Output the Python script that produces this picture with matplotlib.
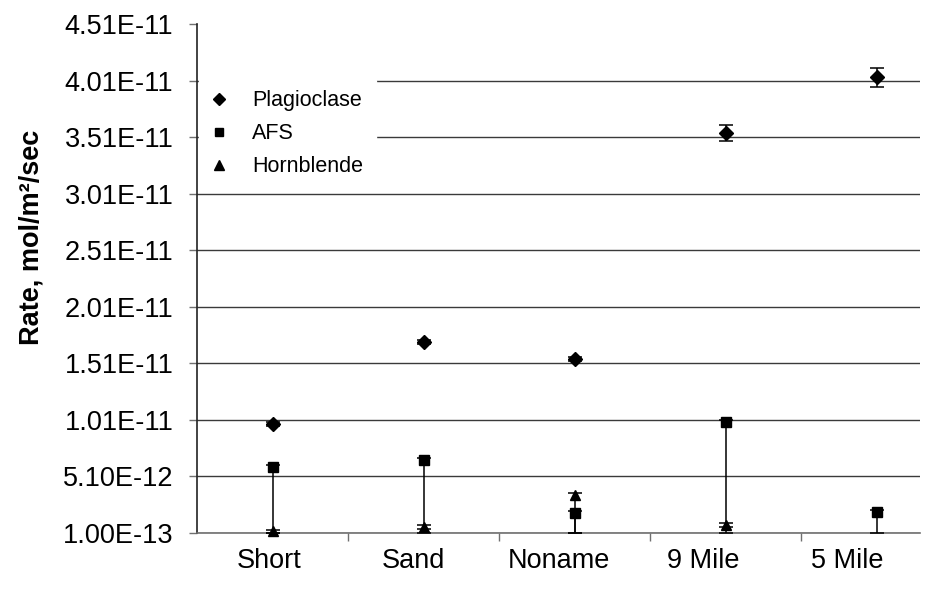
import numpy as np
import matplotlib
matplotlib.use("Agg")
import matplotlib.pyplot as plt
from matplotlib.lines import Line2D

plt.rcParams['font.family'] = ['Liberation Sans', 'DejaVu Sans']

categories = ["Short", "Sand", "Noname", "9 Mile", "5 Mile"]

plag = [9.74e-12, 1.70e-11, 1.55e-11, 3.55e-11, 4.04e-11]
plag_err = [1.5e-13, 1.5e-13, 1.5e-13, 7.0e-13, 8.4e-13]

afs = [5.95e-12, 6.55e-12, 1.87e-12, 9.90e-12, 1.96e-12]
afs_err_up = [1.5e-13, 1.5e-13, 1.5e-13, 1.5e-13, 1.5e-13]
afs_err_low = [5.85e-12, 6.45e-12, 1.77e-12, 9.80e-12, 1.86e-12]

horn = [2.5e-13, 6.3e-13, 3.46e-12, 8.1e-13, np.nan]
horn_err_up = [1.5e-13, 1.5e-13, 1.5e-13, 1.5e-13, 0.0]
horn_err_low = [1.5e-13, 1.5e-13, 3.36e-12, 1.5e-13, 0.0]

ytick_vals = [1.00e-13 + 5.0e-12 * k for k in range(10)]

fig = plt.figure(figsize=(9.42, 5.89), dpi=100)
ax = fig.add_axes([197/942, 1 - 533/589, 723/942, 509/589])

xmax = 723 / 151.0
x = np.arange(len(categories)) + 0.5

ax.set_xlim(0, xmax)
ax.set_ylim(ytick_vals[0], ytick_vals[-1])

# grid
ax.set_yticks(ytick_vals)
ax.set_yticklabels([f"{v:.2E}" for v in ytick_vals], fontsize=19.5)
ax.yaxis.grid(True, color='#3a3a3a', linewidth=1.0)
ax.get_ygridlines()[-1].set_visible(False)
ax.set_axisbelow(True)

# x ticks: labels centered in equal bins, tick marks between data groups
label_pos = [(i + 0.5) * xmax / len(categories) for i in range(len(categories))]
ax.set_xticks(label_pos)
ax.set_xticklabels(categories, fontsize=19.5)
ax.tick_params(axis='x', which='major', length=0, pad=11)
ax.set_xticks(np.arange(1, len(categories)), minor=True)
ax.tick_params(axis='x', which='minor', length=6, color='#707070', width=1)
ax.tick_params(axis='y', which='major', length=6, color='#707070', width=1, pad=11)

for side in ['top', 'right']:
    ax.spines[side].set_visible(False)
ax.spines['left'].set_color('#222222')
ax.spines['bottom'].set_color('#707070')
ax.spines['left'].set_linewidth(1.2)
ax.spines['bottom'].set_linewidth(1.2)

ekw = dict(ecolor='black', elinewidth=1.1, capsize=5, capthick=1.1, linestyle='none', clip_on=False, zorder=3)
ax.errorbar(x, plag, yerr=plag_err, fmt='D', color='black', markersize=7, **ekw)
ax.errorbar(x, afs, yerr=[afs_err_low, afs_err_up], fmt='s', color='black', markersize=7, **ekw)
ax.errorbar(x, horn, yerr=[horn_err_low, horn_err_up], fmt='^', color='black', markersize=7.5, **ekw)

handles = [Line2D([], [], marker='D', color='black', linestyle='none', markersize=6),
           Line2D([], [], marker='s', color='black', linestyle='none', markersize=6),
           Line2D([], [], marker='^', color='black', linestyle='none', markersize=6.5)]
leg = ax.legend(handles, ["Plagioclase", "AFS", "Hornblende"], loc='upper left',
                bbox_to_anchor=(0.003, 0.895), frameon=True, fontsize=15.5,
                handlelength=0.6, handletextpad=1.25, labelspacing=0.55,
                borderpad=0.6, borderaxespad=0)
leg.get_frame().set_facecolor('white')
leg.get_frame().set_edgecolor('white')
leg.get_frame().set_alpha(1)

ax.set_ylabel("Rate, mol/m²/sec", fontsize=19.5, fontweight='bold')
ax.yaxis.set_label_coords(-0.211, 0.58)

fig.savefig("out.png", dpi=100)
